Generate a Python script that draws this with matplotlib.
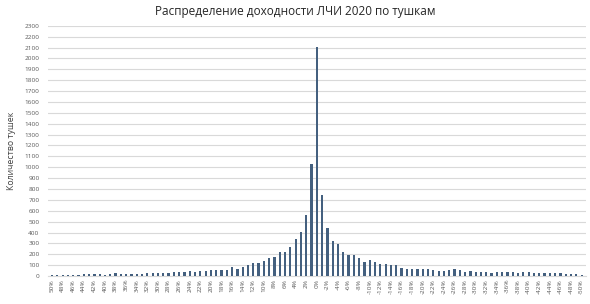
import numpy as np
import matplotlib
matplotlib.use("Agg")
import matplotlib.pyplot as plt

# доходность, % (от 50% до -50%)
returns = list(range(50, -51, -1))
counts = [
    5, 8, 10, 12, 12, 10, 20, 15, 15, 15,        # 50..41
    12, 15, 25, 18, 18, 22, 22, 22, 25, 25,      # 40..31
    30, 30, 30, 33, 35, 38, 45, 40, 42, 50,      # 30..21
    55, 55, 60, 55, 86, 64, 86, 98, 117, 117,    # 20..11
    138, 166, 177, 221, 224, 268, 342, 404, 558, 1030,  # 10..1
    2110,                                         # 0
    748, 442, 326, 295, 223, 193, 190, 166, 129, 147,   # -1..-10
    129, 107, 107, 98, 98, 77, 64, 64, 64, 64,          # -11..-20
    61, 55, 49, 46, 58, 66, 55, 37, 49, 37,              # -21..-30
    37, 34, 31, 37, 34, 34, 34, 31, 40, 37,              # -31..-40
    25, 31, 28, 28, 25, 25, 21, 21, 18, 9,               # -41..-50
]
tick_labels = [f"{r}%" for r in returns]

plt.rcParams["font.family"] = ["Open Sans", "DejaVu Sans"]

fig = plt.figure(figsize=(5.9, 3.04), dpi=100)
ax = fig.add_axes([0.081, 0.092, 0.912, 0.823])

x = np.arange(len(returns))
ax.bar(x, counts, width=0.42, color="#44607f", zorder=3)

ax.set_ylim(0, 2300)
ax.set_yticks(np.arange(0, 2301, 100))
ax.set_xlim(-0.8, len(returns) - 0.2)
ax.set_xticks(x[::2])
ax.set_xticklabels(tick_labels[::2], rotation=90, fontsize=4.6, color="#595959")
ax.tick_params(axis="y", labelsize=4.6, labelcolor="#595959", length=0, pad=6)
ax.tick_params(axis="x", length=0, pad=2)
ax.grid(axis="y", color="#d9d9d9", linewidth=0.8, zorder=0)
for s in ax.spines.values():
    s.set_visible(False)
ax.spines["bottom"].set_visible(True)
ax.spines["bottom"].set_color("#d9d9d9")

ax.set_ylabel("Количество тушек", fontsize=6.3, color="#404040", labelpad=6)
fig.suptitle("Распределение доходности ЛЧИ 2020 по тушкам", fontsize=8.5, color="#262626", y=0.985)

plt.savefig("out.png", dpi=100)
